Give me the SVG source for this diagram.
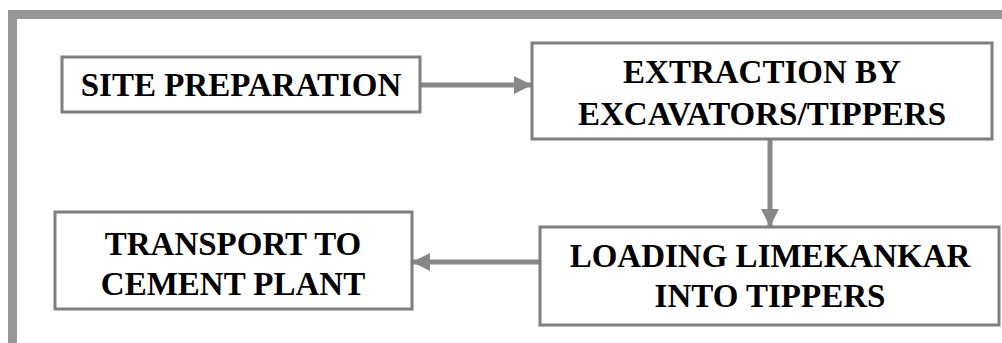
<svg xmlns="http://www.w3.org/2000/svg" width="1002" height="343" viewBox="0 0 1002 343">
<style>
.box{fill:#fff;stroke:#7f7f7f;stroke-width:3}
.t{font-family:'Liberation Serif','Tinos','Times New Roman','DejaVu Serif',serif;font-weight:bold;font-size:33px;fill:#000;text-anchor:middle}
.c{stroke:#888;stroke-width:5;fill:none}
</style>
<defs>
<marker id="ah" markerUnits="userSpaceOnUse" markerWidth="18" markerHeight="18" refX="17" refY="9" orient="auto">
<path d="M0,0 L18,9 L0,18 Z" fill="#888"/>
</marker>
</defs>
<rect width="1002" height="343" fill="#fff"/>
<path d="M12.5,343 V14.5 H1002" fill="none" stroke="#979797" stroke-width="9"/>
<g id="connectors">
<line class="c" x1="421" y1="85" x2="531" y2="85" marker-end="url(#ah)"/>
<line class="c" x1="770" y1="139" x2="770" y2="226" marker-end="url(#ah)"/>
<line class="c" x1="540" y1="262" x2="413" y2="262" marker-end="url(#ah)"/>
</g>
<g id="site">
<rect class="box" x="62" y="57" width="358" height="55"/>
<text class="t" x="241" y="96" font-family="Liberation Serif">SITE PREPARATION</text>
</g>
<g id="extraction">
<rect class="box" x="532" y="43" width="460" height="96"/>
<text class="t" x="762" y="83">EXTRACTION BY</text>
<text class="t" x="762" y="125">EXCAVATORS/TIPPERS</text>
</g>
<g id="loading">
<rect class="box" x="540" y="227" width="459" height="98"/>
<text class="t" x="770" y="267">LOADING LIMEKANKAR</text>
<text class="t" x="770" y="307">INTO TIPPERS</text>
</g>
<g id="transport">
<rect class="box" x="55" y="212" width="357" height="97"/>
<text class="t" x="233" y="255">TRANSPORT TO</text>
<text class="t" x="233" y="295">CEMENT PLANT</text>
</g>
</svg>
